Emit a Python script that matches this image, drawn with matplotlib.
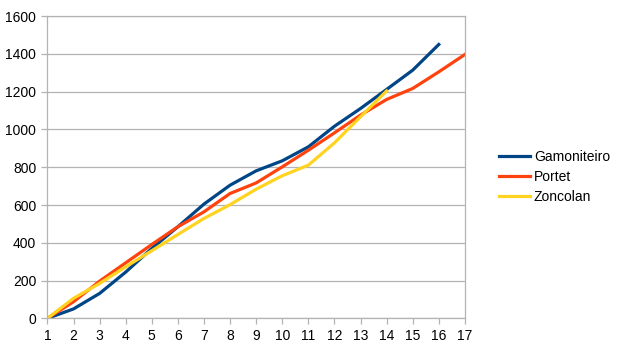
import matplotlib.pyplot as plt

plt.rcParams['font.family'] = ['Liberation Sans', 'DejaVu Sans']

stages = list(range(1, 18))
gamoniteiro = [0, 50, 132, 245, 370, 485, 605, 705, 781, 834, 908, 1017, 1111, 1212, 1314, 1450]
portet = [0, 88, 197, 294, 391, 485, 564, 661, 717, 802, 890, 982, 1076, 1159, 1217, 1305, 1397]
zoncolan = [0, 106, 185, 273, 358, 444, 529, 602, 684, 755, 811, 929, 1067, 1204]

grid_col = '#b3b3b3'

fig = plt.figure(figsize=(6.24, 3.51), dpi=100)
ax = fig.add_axes([0.076, 0.093, 0.669, 0.861])

ax.plot(stages[:len(gamoniteiro)], gamoniteiro, color='#004586', lw=2.3, label='Gamoniteiro')
ax.plot(stages[:len(portet)], portet, color='#ff420e', lw=2.3, label='Portet')
ax.plot(stages[:len(zoncolan)], zoncolan, color='#ffd320', lw=2.3, label='Zoncolan')

ax.set_xlim(1, 17)
ax.set_ylim(0, 1600)
ax.set_xticks(stages)
ax.set_yticks(range(0, 1601, 200))
ax.yaxis.grid(True, color=grid_col, lw=0.9)
ax.set_axisbelow(True)
for s in ax.spines.values():
    s.set_color(grid_col)
    s.set_linewidth(0.9)
ax.tick_params(colors=grid_col, labelcolor='black', labelsize=10, length=4.5, width=0.9)

ax.legend(loc='center left', bbox_to_anchor=(0.80, 0.496), bbox_transform=fig.transFigure,
          frameon=False, fontsize=10, handlelength=2.2, handletextpad=0.3,
          labelspacing=0.44, borderpad=0, borderaxespad=0)

fig.savefig('out.png', dpi=100)
